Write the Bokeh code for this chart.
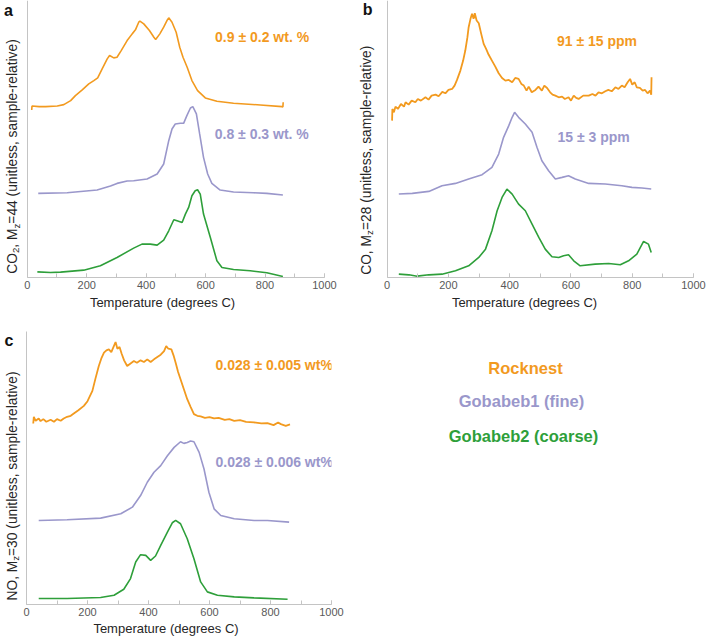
import math
from bokeh.plotting import figure
from bokeh.models import Label, SingleIntervalTicker, FixedTicker, Range1d
from bokeh.layouts import row, column
from bokeh.embed import file_html
from bokeh.resources import INLINE

ORANGE = "#F29A1F"
PURPLE = "#9A97CB"
GREEN = "#2E9F3A"
SERIES_NAMES = ["Rocknest", "Gobabeb1 (fine)", "Gobabeb2 (coarse)"]

# ---------------- Panel a: CO2, Mz=44 ----------------
a_rock_T = [15, 16, 40, 62, 101, 123, 146, 162, 185, 207, 224, 237, 252, 269, 277, 291, 302, 316, 336, 353,
            364, 375, 379, 392, 411, 426, 432, 446, 459, 470, 476, 487, 501, 513, 524, 538, 554, 573, 599, 638,
            694, 784, 857, 860, 861]
a_rock_S = [502, 514, 512, 512, 514, 518, 530, 545, 562, 580, 590, 598, 625, 655, 665, 658, 660, 680, 710, 730,
            742, 765, 768, 760, 740, 720, 713, 730, 750, 770, 778, 765, 735, 690, 660, 630, 590, 560, 538, 528,
            522, 517, 512, 511, 525]
a_gob1_T = [37, 134, 235, 280, 302, 336, 358, 403, 437, 459, 476, 487, 498, 515, 526, 537, 549, 557, 569, 580,
            593, 607, 621, 649, 694, 761, 806, 860]
a_gob1_S = [252, 254, 262, 274, 282, 289, 290, 295, 310, 340, 410, 445, 460, 462, 462, 485, 508, 512, 490, 430,
            360, 310, 282, 262, 256, 254, 252, 247]
a_gob2_T = [34, 78, 112, 190, 246, 302, 358, 386, 414, 437, 459, 476, 493, 504, 521, 532, 543, 554, 565, 573,
            582, 593, 616, 638, 655, 694, 750, 806, 860]
a_gob2_S = [17, 15, 16, 22, 35, 60, 88, 100, 100, 97, 112, 140, 173, 170, 165, 190, 210, 245, 260, 263,
            250, 190, 120, 50, 30, 24, 20, 14, 3]
a_notes = ["0.9 ± 0.2 wt. %", "0.8 ± 0.3 wt. %"]

# ---------------- Panel b: CO, Mz=28 ----------------
b_rock_T = [16, 17, 22, 27, 35, 45, 55, 60, 70, 80, 92, 100, 110, 125, 135, 145, 158, 168, 180, 190,
            200, 212, 220, 228, 239, 248, 255, 262, 266, 272, 277, 282, 286, 292, 299, 307, 315, 323, 331, 342,
            353, 364, 375, 386, 397, 408, 418, 429, 438, 446, 455, 462, 472, 484, 494, 505, 513, 522, 532, 540,
            549, 560, 571, 580, 592, 600, 609, 617, 625, 640, 658, 670, 680, 690, 701, 712, 722, 733, 745, 755,
            766, 775, 785, 793, 800, 808, 815, 825, 834, 842, 850, 858, 862, 863]
b_rock_S = [470, 505, 495, 512, 505, 520, 512, 525, 518, 530, 525, 535, 530, 540, 533, 545, 548, 543, 556, 552,
            562, 565, 575, 592, 620, 650, 680, 720, 750, 775, 790, 775, 792, 770, 762, 730, 700, 685, 668, 650,
            632, 612, 598, 590, 592, 585, 598, 595, 580, 575, 560, 572, 555, 562, 572, 560, 575, 568, 555, 548,
            545, 540, 542, 535, 540, 530, 545, 538, 535, 545, 545, 550, 545, 555, 552, 558, 562, 558, 570, 565,
            575, 570, 585, 595, 578, 585, 570, 568, 560, 562, 552, 560, 548, 600]
b_gob1_T = [38, 82, 136, 179, 223, 266, 310, 342, 364, 380, 397, 408, 416, 429, 451, 473, 489, 505, 527, 549,
            571, 592, 614, 658, 712, 766, 799, 832, 862]
b_gob1_S = [250, 252, 258, 275, 282, 295, 308, 330, 370, 420, 455, 480, 495, 480, 460, 435, 390, 350, 320, 295,
            300, 305, 295, 282, 280, 275, 270, 268, 265]
b_gob2_T = [38, 71, 98, 136, 179, 223, 266, 299, 321, 342, 359, 375, 391, 408, 429, 451, 473, 495, 516, 538,
            560, 576, 592, 609, 630, 679, 723, 761, 788, 815, 837, 853, 862]
b_gob2_S = [10, 8, 4, 8, 10, 20, 35, 60, 85, 140, 200, 240, 265, 250, 220, 200, 160, 120, 85, 62,
            60, 65, 68, 50, 35, 40, 42, 38, 50, 70, 108, 100, 75]
b_notes = ["91 ± 15 ppm", "15 ± 3 ppm"]

# ---------------- Panel c: NO, Mz=30 ----------------
c_rock_T = [22, 24, 30, 40, 46, 55, 65, 79, 90, 100, 112, 122, 133, 145, 155, 170, 188, 200, 216, 226,
            237, 245, 254, 262, 270, 278, 285, 292, 298, 305, 312, 320, 330, 340, 352, 362, 374, 385, 396, 407,
            418, 429, 440, 451, 458, 465, 475, 482, 489, 497, 505, 516, 527, 538, 549, 560, 571, 585, 600, 615,
            630, 650, 665, 681, 700, 720, 746, 770, 790, 810, 825, 834, 850, 864]
c_rock_S = [545, 565, 553, 560, 552, 558, 550, 556, 550, 558, 553, 560, 565, 568, 575, 585, 598, 612, 643, 680,
            718, 740, 758, 765, 768, 760, 775, 790, 770, 775, 755, 735, 718, 725, 733, 728, 735, 730, 738, 730,
            738, 745, 752, 763, 778, 770, 768, 750, 728, 700, 678, 648, 618, 595, 573, 568, 566, 562, 564, 560,
            562, 556, 558, 553, 555, 550, 548, 545, 546, 540, 548, 543, 538, 542]
c_gob1_T = [40, 133, 243, 309, 347, 374, 396, 418, 440, 462, 484, 505, 516, 527, 538, 549, 566, 582, 598, 615,
            637, 681, 746, 790, 861]
c_gob1_S = [253, 255, 260, 273, 293, 328, 368, 398, 418, 448, 473, 490, 485, 488, 492, 490, 458, 408, 338, 288,
            268, 258, 253, 253, 248]
c_gob2_T = [40, 133, 243, 287, 319, 341, 358, 374, 391, 407, 423, 440, 462, 478, 489, 505, 527, 549, 571, 593,
            626, 681, 746, 856]
c_gob2_S = [18, 18, 21, 28, 46, 78, 128, 150, 148, 133, 146, 178, 218, 246, 253, 243, 198, 138, 68, 38,
            28, 23, 20, 16]
c_notes = ["0.028 ± 0.005 wt%", "0.028 ± 0.006 wt%"]

x_ticks_interval = 200
x_title = "Temperature (degrees C)"

FONT = "Liberation Sans"
AXIS_COL = "#c4c4c4"

# Arial / Liberation Sans advance widths (per 1000 em)
W = {'C': 722, 'O': 778, 'N': 722, '0': 556, '1': 556, '2': 556, '3': 556, '4': 556, '8': 556, ',': 278,
     ' ': 278, 'M': 833, 'z': 500, '=': 584, '(': 333, ')': 333, 'u': 556, 'n': 556, 'i': 222, 't': 278,
     'l': 222, 'e': 556, 's': 500, 'a': 556, 'm': 833, 'p': 556, '-': 333, 'r': 333, 'v': 500}


def tw(s, size):
    return sum(W.get(c, 556) for c in s) / 1000.0 * size


def make_panel(width, height, br, bb, xmin, ymax, lab_standoff, ybounds=None):
    p = figure(width=width, height=height, x_range=Range1d(xmin, 1000), y_range=Range1d(0, ymax),
               output_backend="svg", toolbar_location=None, title=None,
               min_border_left=0, min_border_right=br, min_border_top=0, min_border_bottom=bb)
    p.grid.visible = False
    p.outline_line_color = None
    p.background_fill_color = "white"
    p.border_fill_color = "white"
    xa = p.xaxis[0]
    xa.bounds = (0, 1000)
    xa.ticker = SingleIntervalTicker(interval=x_ticks_interval, num_minor_ticks=2)
    xa.axis_line_color = AXIS_COL
    xa.major_tick_line_color = AXIS_COL
    xa.minor_tick_line_color = AXIS_COL
    xa.major_tick_in = 4
    xa.major_tick_out = 0
    xa.minor_tick_in = 4
    xa.minor_tick_out = 0
    xa.major_label_text_font = FONT
    xa.major_label_text_font_size = "11px"
    xa.major_label_text_color = "#595959"
    xa.major_label_standoff = 3
    xa.axis_label = x_title
    xa.axis_label_text_font = FONT
    xa.axis_label_text_font_size = "13px"
    xa.axis_label_text_font_style = "normal"
    xa.axis_label_text_color = "#262626"
    xa.axis_label_standoff = lab_standoff
    ya = p.yaxis[0]
    ya.fixed_location = 0
    ya.ticker = FixedTicker(ticks=[])
    ya.axis_line_color = AXIS_COL
    ya.major_tick_line_color = None
    ya.minor_tick_line_color = None
    ya.major_tick_in = 0
    ya.major_tick_out = 0
    ya.minor_tick_in = 0
    ya.minor_tick_out = 0
    ya.major_label_standoff = 0
    if ybounds is not None:
        ya.bounds = ybounds
    return p


def add_curves(p, data, widths):
    for (T, S), col, w in zip(data, [ORANGE, PURPLE, GREEN], widths):
        p.line(T, S, line_color=col, line_width=w)


def add_notes(p, notes, pos):
    for txt, (x, y), col in zip(notes, pos, [ORANGE, PURPLE]):
        p.add_layout(Label(x=x, y=y, text=txt, text_align="center", text_baseline="middle",
                           text_font=FONT, text_font_size="14px", text_font_style="bold",
                           text_color=col))


def add_ylabel(p, x, y0, upx, tpx, pieces):
    y = y0
    for s, size, off in pieces:
        p.add_layout(Label(x=x + off * tpx, y=y, text=s, angle=math.pi / 2, text_align="left",
                           text_baseline="middle", text_font=FONT, text_font_size=f"{size}px",
                           text_color="#262626"))
        y += tw(s, size) * upx


def add_letter(p, x, y, t):
    p.add_layout(Label(x=x, y=y, text=t, text_align="center", text_baseline="middle",
                       text_font=FONT, text_font_size="16px", text_font_style="bold", text_color="#111111"))


MAIN = 13.8
SUB = 9.7

# Panel a
pa = make_panel(355, 314, 31, 37, -90, 830, 3)
add_curves(pa, [(a_rock_T, a_rock_S), (a_gob1_T, a_gob1_S), (a_gob2_T, a_gob2_S)], [1.6, 1.6, 1.6])
add_notes(pa, a_notes, [(790, 722), (789, 430)])
add_ylabel(pa, -49.4, 11, 3.0, 1 / 0.2973, [("CO", MAIN, 0), ("2", SUB, 3.5), (", M", MAIN, 0), ("z", SUB, 3.5),
                                             ("=44 (unitless, sample-relative)", MAIN, 0)])
add_letter(pa, -63, 800, "a")

# Panel b
pb = make_panel(352, 314, 14, 37, -103.4, 830, 3)
add_curves(pb, [(b_rock_T, b_rock_S), (b_gob1_T, b_gob1_S), (b_gob2_T, b_gob2_S)], [1.8, 1.6, 1.6])
add_notes(pb, b_notes, [(685, 710), (674, 420)])
add_ylabel(pb, -67.5, 8, 3.0, 1 / 0.3066, [("CO, M", MAIN, 0), ("z", SUB, 3.5),
                                           ("=28 (unitless, sample-relative)", MAIN, 0)])
add_letter(pb, -64, 803, "b")

# Panel c
pc = make_panel(355, 324, 24, 33, -85.3, 873, 2, ybounds=(0, 822))
add_curves(pc, [(c_rock_T, c_rock_S), (c_gob1_T, c_gob1_S), (c_gob2_T, c_gob2_S)], [1.8, 1.6, 1.6])
add_notes(pc, c_notes, [(812, 720), (812, 428)])
add_ylabel(pc, -46, 12, 3.0, 1 / 0.3047, [("NO, M", MAIN, 0), ("z", SUB, 3.5),
                                          ("=30 (unitless, sample-relative)", MAIN, 0)])
add_letter(pc, -58, 796, "c")

# Legend panel (its frame is aligned with panel c's frame: 291 px tall)
pl = figure(width=352, height=324, x_range=Range1d(0, 352), y_range=Range1d(0, 291),
            output_backend="svg", toolbar_location=None, title=None,
            x_axis_location=None, y_axis_location=None, min_border=0)
pl.grid.visible = False
pl.outline_line_color = None
for name, col, (x, y) in zip(SERIES_NAMES, [ORANGE, PURPLE, GREEN], [(170, 237), (166, 204), (168, 169)]):
    pl.add_layout(Label(x=x, y=y, text=name, text_align="center", text_baseline="middle",
                        text_font=FONT, text_font_size="16.5px", text_font_style="bold", text_color=col))

layout = column(row(pa, pb), row(pc, pl))
open("out.html", "w").write(file_html(layout, INLINE))
